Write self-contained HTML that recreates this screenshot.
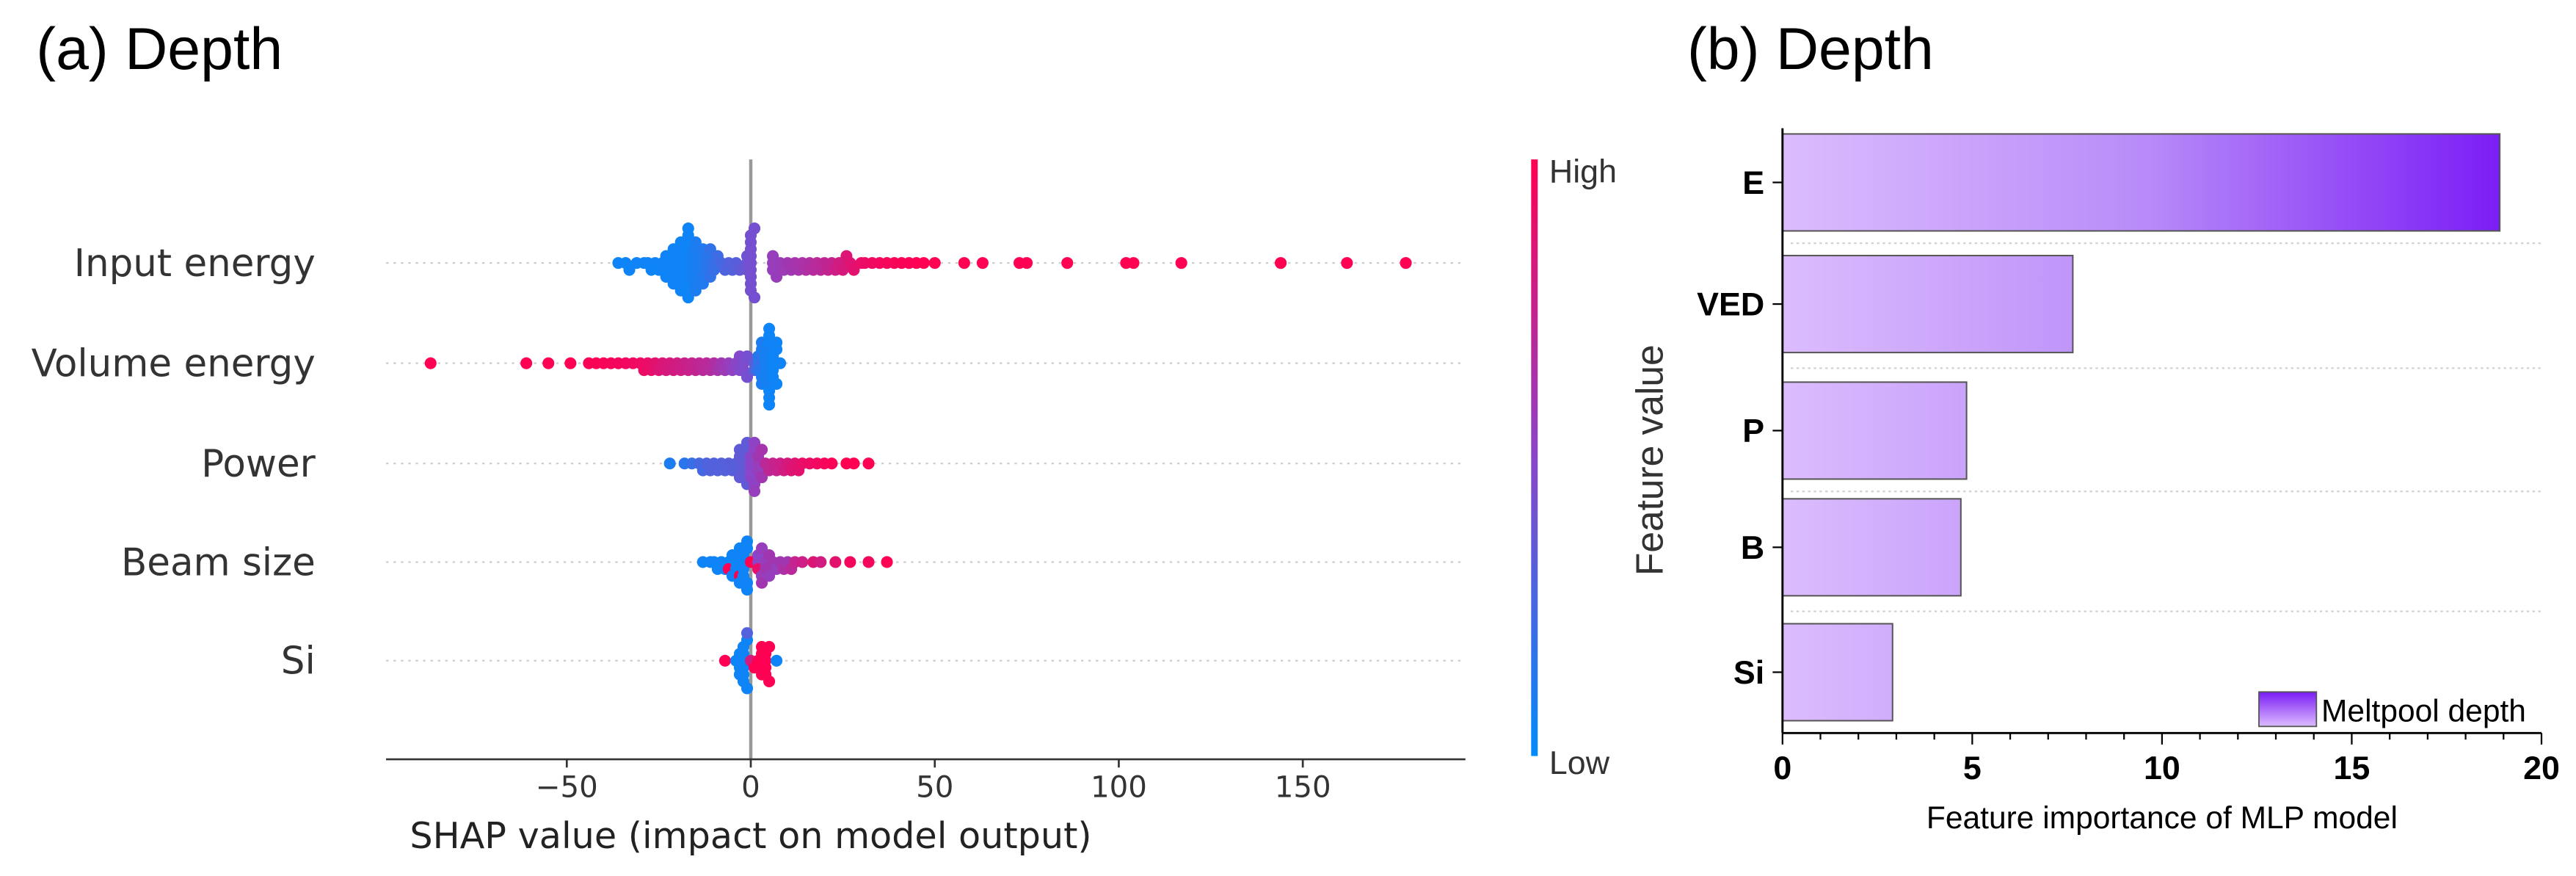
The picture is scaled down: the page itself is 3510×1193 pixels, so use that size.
<!DOCTYPE html>
<html><head><meta charset="utf-8"><style>
html,body{margin:0;padding:0;background:#fff;width:3510px;height:1193px;overflow:hidden}
svg{display:block}
</style></head><body>
<svg id="fig" width="3510" height="1193" viewBox="0 0 1568 533" preserveAspectRatio="none" xmlns="http://www.w3.org/2000/svg">
<defs>
<linearGradient id="cbar" x1="0" y1="1" x2="0" y2="0">
<stop offset="0" stop-color="#008bfb"/><stop offset="0.5" stop-color="#8a45c8"/><stop offset="1" stop-color="#ff0052"/>
</linearGradient>
<linearGradient id="barg" gradientUnits="userSpaceOnUse" x1="1085" y1="0" x2="1524" y2="0">
<stop offset="0" stop-color="#dcbcfe"/><stop offset="0.5" stop-color="#b88cf8"/><stop offset="1" stop-color="#7a1cf5"/>
</linearGradient>
<linearGradient id="legg" x1="0" y1="0" x2="0" y2="1">
<stop offset="0" stop-color="#7a1cf5"/><stop offset="1" stop-color="#dcbcfe"/>
</linearGradient>
</defs>
<text x="22" y="42" font-family="Liberation Sans, sans-serif" font-size="36">(a) Depth</text>
<text x="1027" y="42" font-family="Liberation Sans, sans-serif" font-size="36">(b) Depth</text>
<g id="shap"></g>
<g id="bars"></g>
</svg>
<script>
// ---------- Panel (a) data ----------
const shapFeatures = ["Input energy","Volume energy","Power","Beam size","Si"];
const shapTicks = [-50,0,50,100,150];
const shapInput = [-36,-34,-33,-31,-29,-28,-27,-26,-25,-24,-24,-23,-23,-22,-22,-22,-21,-21,-21,-20,-20,-20,-20,-19,-19,-19,-19,-18,-18,-18,-18,-18,-18,-17,-17,-17,-17,-17,-16,-16,-16,-16,-15,-15,-15,-15,-14,-14,-14,-13,-13,-13,-12,-12,-12,-11,-11,-10,-10,-9,-8,-7,-6,-5,-4,-3,-1,-1,-1,0,0,0,0,0,0,0,0,0,1,1,6,6,6,7,8,9,10,11,12,13,14,15,16,17,18,19,20,21,22,23,24,25,26,27,28,30,31,33,35,37,39,41,43,45,47,50,58,63,73,75,86,102,104,117,144,162,178];
const colInput = [0.05,0.05,0.05,0.05,0.05,0.05,0.05,0.05,0.05,0.05,0.05,0.05,0.05,0.05,0.05,0.05,0.05,0.05,0.05,0.05,0.05,0.05,0.05,0.05,0.05,0.05,0.05,0.05,0.05,0.05,0.05,0.05,0.05,0.05,0.05,0.05,0.05,0.05,0.08,0.08,0.08,0.08,0.1,0.1,0.1,0.1,0.1,0.1,0.1,0.12,0.12,0.12,0.15,0.15,0.15,0.18,0.18,0.2,0.2,0.22,0.25,0.28,0.3,0.3,0.32,0.35,0.4,0.4,0.4,0.42,0.42,0.42,0.42,0.42,0.42,0.42,0.42,0.42,0.42,0.42,0.55,0.55,0.55,0.56,0.57,0.58,0.6,0.6,0.62,0.62,0.64,0.65,0.66,0.68,0.7,0.7,0.72,0.74,0.75,0.78,0.8,0.82,0.85,0.86,0.88,0.9,0.92,0.94,0.95,0.96,0.97,0.98,0.98,0.99,1,1,1,1,1,1,1,1,1,1,1,1,1];
const shapVolume = [-87,-61,-55,-49,-44,-42,-40,-38,-36,-34,-32,-30,-29,-28,-27,-26,-25,-24,-23,-22,-21,-20,-19,-18,-17,-16,-15,-14,-13,-12,-11,-10,-9,-8,-7,-6,-5,-4,-3,-3,-2,-2,-1,-1,1,1,2,2,2,3,3,3,3,4,4,4,4,4,4,5,5,5,5,5,5,6,6,6,6,7,7,7,8];
const colVolume = [1,1,1,1,0.98,0.98,0.97,0.96,0.95,0.95,0.94,0.93,0.92,0.91,0.9,0.88,0.85,0.84,0.83,0.82,0.8,0.8,0.78,0.77,0.76,0.75,0.74,0.72,0.7,0.7,0.68,0.66,0.62,0.6,0.58,0.55,0.52,0.5,0.48,0.48,0.45,0.45,0.42,0.42,0.35,0.3,0.2,0.15,0.15,0.1,0.1,0.1,0.1,0.08,0.08,0.08,0.08,0.08,0.08,0.05,0.05,0.05,0.05,0.05,0.05,0.05,0.05,0.05,0.05,0.05,0.05,0.05,0.05];
const shapPower = [-22,-18,-16,-14,-13,-12,-11,-10,-9,-8,-7,-6,-5,-4,-4,-3,-3,-3,-2,-2,-2,-2,-1,-1,-1,0,0,0,0,1,1,1,1,2,2,2,3,3,4,5,6,7,8,9,10,11,12,13,14,16,18,20,22,26,28,32];
const colPower = [0.1,0.15,0.2,0.25,0.25,0.28,0.3,0.3,0.3,0.3,0.3,0.32,0.32,0.32,0.32,0.35,0.35,0.35,0.35,0.35,0.35,0.35,0.35,0.35,0.35,0.5,0.5,0.5,0.5,0.52,0.52,0.52,0.55,0.55,0.55,0.6,0.6,0.62,0.7,0.72,0.75,0.75,0.78,0.8,0.82,0.85,0.86,0.88,0.9,0.92,0.94,0.96,0.98,1,1,1];
const shapBeam = [-13,-11,-10,-9,-8,-7,-6,-6,-5,-5,-4,-4,-3,-3,-3,-3,-2,-2,-2,-2,-1,-1,-1,-1,0,2,2,2,3,3,3,4,4,5,5,6,7,8,9,10,11,12,14,17,19,23,27,32,37];
const colBeam = [0.05,0.05,0.05,0.05,0.05,0.05,0.05,1,0.05,0.05,0.05,0.05,0.05,1,0.05,0.05,0.05,0.05,0.05,0.05,0.05,0.05,0.05,0.05,1,0.5,0.9,0.5,0.55,0.55,0.6,0.55,0.6,0.6,0.55,0.6,0.55,0.6,0.65,0.6,0.7,0.75,0.78,0.85,0.8,0.88,0.95,0.95,1];
const shapSi = [-7,-4,-3,-3,-3,-2,-2,-2,-2,-2,-2,-1,-1,-1,0,1,2,3,3,3,3,4,4,4,4,5,5,7];
const colSi = [1,0.05,0.05,0.05,0.05,0.05,0.05,0.05,0.05,0.05,0.05,0.05,0.05,0.3,0.8,1,1,1,1,1,1,1,1,1,1,1,1,0.05];

// ---------- Panel (b) data ----------
const barLabels = ["E","VED","P","B","Si"];
const barValues = [18.9,7.65,4.85,4.7,2.9];
const barTicks = [0,5,10,15,20];

const NS="http://www.w3.org/2000/svg";
function mk(tag,attrs,parent){const e=document.createElementNS(NS,tag);for(const k in attrs)e.setAttribute(k,attrs[k]);parent.appendChild(e);return e;}
function lerp(a,b,t){return a+(b-a)*t;}
function cmap(t){
  const s=[[0,139,251],[138,69,200],[255,0,82]];
  let a,b,u; if(t<0.5){a=s[0];b=s[1];u=t/0.5;}else{a=s[1];b=s[2];u=(t-0.5)/0.5;}
  return `rgb(${Math.round(lerp(a[0],b[0],u))},${Math.round(lerp(a[1],b[1],u))},${Math.round(lerp(a[2],b[2],u))})`;
}
// ---- panel a ----
const g=document.getElementById('shap');
const xS=v=>457+v*(112/50);
const rowY=[160,221,282,342,402];
const font='DejaVu Sans, sans-serif';
rowY.forEach((y,i)=>{
  const gl=mk('line',{x1:235,x2:892,y1:y,y2:y,stroke:'#cccccc','stroke-width':1,'stroke-dasharray':'1.5,3'},g);
  
  
  const t=mk('text',{x:192,y:y+8,'text-anchor':'end','font-family':font,'font-size':23,fill:'#333'},g);
  t.textContent=shapFeatures[i];
  
  
});
const zl=mk('line',{x1:457,x2:457,y1:97,y2:462,stroke:'#999','stroke-width':2},g);


const series=[[shapInput,colInput],[shapVolume,colVolume],[shapPower,colPower],[shapBeam,colBeam],[shapSi,colSi]];
series.forEach((s,i)=>{
  const vals=s[0],cols=s[1];
  const idx=vals.map((v,k)=>k).sort((a,b)=>vals[a]-vals[b]);
  const bins={};
  idx.forEach(k=>{
    const px=xS(vals[k]);const b=Math.round(px/4.5);
    const n=bins[b]||0;bins[b]=n+1;
    const off=(n===0)?0:(n%2?1:-1)*Math.ceil(n/2)*4.2;
    const c=mk('ellipse',{cx:px,cy:rowY[i]+off,rx:3.6,ry:3.6,fill:cmap(cols[k])},g);
    
    
  });
});
const ax=mk('line',{x1:235,x2:892,y1:462,y2:462,stroke:'#333','stroke-width':1.2},g);


shapTicks.forEach(v=>{
  const x=xS(v);
  const tk=mk('line',{x1:x,x2:x,y1:462,y2:467,stroke:'#333','stroke-width':1.2},g);
  
  
  const t=mk('text',{x:x,y:485,'text-anchor':'middle','font-family':font,'font-size':18,fill:'#333'},g);
  t.textContent=v<0?'\u2212'+Math.abs(v):String(v);
  
  
});
const xt=mk('text',{x:457,y:516,'text-anchor':'middle','font-family':font,'font-size':22,fill:'#222'},g);
xt.textContent='SHAP value (impact on model output)';


const cb=mk('rect',{x:932,y:97,width:4,height:363,fill:'url(#cbar)'},g);


const hi=mk('text',{x:943,y:111,'font-family':'Liberation Sans, sans-serif','font-size':20,fill:'#333'},g);
hi.textContent='High';


const lo=mk('text',{x:943,y:471,'font-family':'Liberation Sans, sans-serif','font-size':20,fill:'#333'},g);
lo.textContent='Low';


const fv=mk('text',{x:1012,y:280,'text-anchor':'middle','font-family':'Liberation Sans, sans-serif','font-size':23,fill:'#333',transform:'rotate(-90 1012 280)'},g);
fv.textContent='Feature value';



// ---- panel b ----
const gb=document.getElementById('bars');
const bx=v=>1085+v*(462/20);
const barY=[111,185,262,333,409];
const grid=[148,224,299,372];
grid.forEach(y=>{
  const l=mk('line',{x1:1090,x2:1547,y1:y,y2:y,stroke:'#d0d0d0','stroke-width':1,'stroke-dasharray':'1.5,2'},gb);
  
  
});
barValues.forEach((v,i)=>{
  const r=mk('rect',{x:1085,y:barY[i]-29.5,width:bx(v)-1085,height:59,fill:'url(#barg)',stroke:'#555','stroke-width':0.9},gb);
  
  
  const tk=mk('line',{x1:1079,x2:1085,y1:barY[i],y2:barY[i],stroke:'#000','stroke-width':1},gb);
  
  
  const t=mk('text',{x:1074,y:barY[i]+7,'text-anchor':'end','font-family':'Liberation Sans, sans-serif','font-size':20,'font-weight':'bold'},gb);
  t.textContent=barLabels[i];
  
  
});
const ya=mk('line',{x1:1085,x2:1085,y1:78,y2:446,stroke:'#000','stroke-width':1.3},gb);


const xa=mk('line',{x1:1085,x2:1547,y1:446,y2:446,stroke:'#000','stroke-width':1.3},gb);


for(let v=0;v<=20;v++){
  const major=v%5===0;
  const tk=mk('line',{x1:bx(v),x2:bx(v),y1:446,y2:major?453:450,stroke:'#000','stroke-width':1},gb);
  
  
}
barTicks.forEach(v=>{
  const t=mk('text',{x:bx(v),y:474,'text-anchor':'middle','font-family':'Liberation Sans, sans-serif','font-size':20,'font-weight':'bold'},gb);
  t.textContent=String(v);
  
  
});
const bt=mk('text',{x:1316,y:504,'text-anchor':'middle','font-family':'Liberation Sans, sans-serif','font-size':19},gb);
bt.textContent='Feature importance of  MLP model';


const lb=mk('rect',{x:1375,y:421,width:35,height:21,fill:'url(#legg)',stroke:'#555','stroke-width':0.8},gb);


const lt=mk('text',{x:1413,y:439,'font-family':'Liberation Sans, sans-serif','font-size':19},gb);
lt.textContent='Meltpool depth';


</script>
</body></html>
